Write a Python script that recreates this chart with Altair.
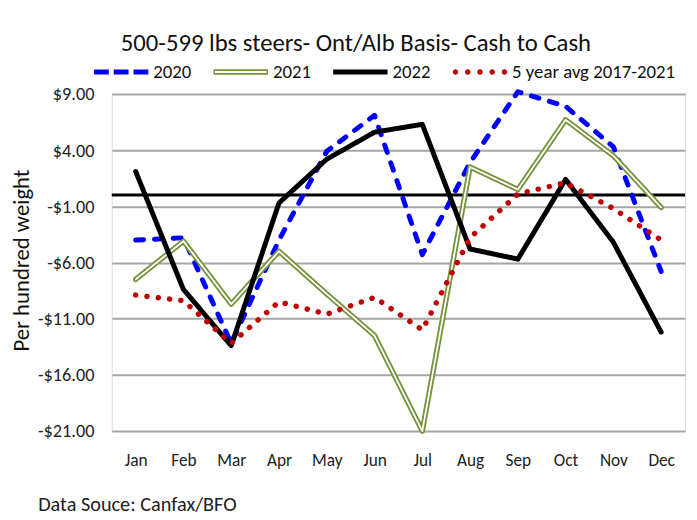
import altair as alt
import pandas as pd

months = ["Jan", "Feb", "Mar", "Apr", "May", "Jun", "Jul", "Aug", "Sep", "Oct", "Nov", "Dec"]
series_names = ["2020", "2021", "2022", "5 year avg 2017-2021"]
v2020 = [-4.0, -3.8, -13.2, -4.0, 3.9, 7.1, -5.3, 2.9, 9.2, 7.9, 4.3, -6.8]
v2021 = [-7.5, -4.1, -9.7, -5.0, -8.8, -12.5, -21.0, 2.5, 0.5, 6.7, 3.5, -1.1]
v2022 = [2.1, -8.4, -13.4, -0.7, 3.2, 5.6, 6.3, -4.8, -5.7, 1.4, -4.2, -12.2]
avg5 = [-8.9, -9.4, -13.2, -9.5, -10.6, -9.1, -12.0, -3.8, 0.1, 1.1, -1.2, -4.0]
y_ticks = [9, 4, -1, -6, -11, -16, -21]

colors = ["#0000ff", "#76923c", "#000000", "#c00000"]

# legend glyphs (unit square paths): dashes, double line, solid line, dots
legend_shapes = [
    "M-1,-0.09H-0.455V0.09H-1Z M-0.273,-0.09H0.273V0.09H-0.273Z M0.455,-0.09H1V0.09H0.455Z",
    "M-1,-0.1H1V-0.035H-1Z M-1,0.035H1V0.1H-1Z M-1,-0.1H-0.95V0.1H-1Z M0.95,-0.1H1V0.1H0.95Z",
    "M-1,-0.09H1V0.09H-1Z",
    "M-1,0a0.1,0.1 0 1,0 0.2,0a0.1,0.1 0 1,0 -0.2,0Z "
    "M-0.55,0a0.1,0.1 0 1,0 0.2,0a0.1,0.1 0 1,0 -0.2,0Z "
    "M-0.1,0a0.1,0.1 0 1,0 0.2,0a0.1,0.1 0 1,0 -0.2,0Z "
    "M0.35,0a0.1,0.1 0 1,0 0.2,0a0.1,0.1 0 1,0 -0.2,0Z "
    "M0.8,0a0.1,0.1 0 1,0 0.2,0a0.1,0.1 0 1,0 -0.2,0Z",
]

rows = []
for name, vals in zip(series_names, [v2020, v2021, v2022, avg5]):
    for m, v in zip(months, vals):
        rows.append({"month": m, "value": v, "series": name})
df = pd.DataFrame(rows)

FONT = "Carlito, Calibri, Lato, sans-serif"

x_enc = alt.X(
    "month:N",
    sort=months,
    scale=alt.Scale(type="point", padding=0.5),
    axis=alt.Axis(
        title="Data Souce: Canfax/BFO",
        titleFont=FONT, titleFontSize=20.5, titleFontWeight="normal", titleColor="#222222",
        titleX=-75, titleY=74, titleAlign="left", titleBaseline="middle", titleAnchor="start",
        labelFont=FONT, labelFontSize=17.5, labelColor="#222222", labelPadding=21,
        labelAngle=0, ticks=False, tickSize=0, domain=False, grid=False,
    ),
)
y_enc = alt.Y(
    "value:Q",
    scale=alt.Scale(domain=[-21, 9], nice=False, zero=False),
    axis=alt.Axis(
        values=y_ticks,
        labelExpr="datum.value < 0 ? '-$' + format(-datum.value, '.2f') : '$' + format(datum.value, '.2f')",
        title="Per hundred weight",
        titleFont=FONT, titleFontSize=23, titleFontWeight="normal", titleColor="#111111",
        titleAngle=-90, titleX=-91, titleY=168, titleAlign="center", titleBaseline="middle",
        labelFont=FONT, labelFontSize=18.5, labelColor="#222222", labelPadding=18,
        ticks=False, tickSize=0, domain=False,
        grid=True, gridColor="#a6a6a6", gridWidth=2,
    ),
)

legend = alt.Legend(
    title=None, orient="none", direction="horizontal", columns=4,
    legendX=-18, legendY=-50,
    symbolSize=3025, symbolStrokeWidth=0,
    labelFont=FONT, labelFontSize=19, labelColor="#111111", labelOffset=5,
    labelLimit=400, columnPadding=22,
)

base = alt.Chart(df).encode(x=x_enc, y=y_enc)


def series_layer(name, color, width, dash):
    return base.transform_filter(alt.datum.series == name).mark_line(
        color=color, strokeWidth=width, strokeDash=dash, strokeCap="round", strokeJoin="round"
    )


l2020 = series_layer("2020", colors[0], 5, [8, 11])
l2021 = series_layer("2021", colors[1], 5.5, [1, 0])
l2021_inner = series_layer("2021", "white", 1.8, [1, 0])
l2022 = series_layer("2022", colors[2], 5, [1, 0])
lavg = series_layer("5 year avg 2017-2021", colors[3], 5.5, [0.1, 11.4])

# legend-only layer: explicit scale domains keep all entries, no marks are drawn
legend_layer = base.transform_filter("false").mark_point(filled=True, size=3025, opacity=1).encode(
    color=alt.Color("series:N", scale=alt.Scale(domain=series_names, range=colors), legend=legend),
    shape=alt.Shape("series:N", scale=alt.Scale(domain=series_names, range=legend_shapes), legend=legend),
)

zero_rule = alt.Chart(pd.DataFrame({"z": [0]})).mark_rule(color="black", strokeWidth=3).encode(
    y=alt.Y("z:Q", scale=alt.Scale(domain=[-21, 9], nice=False, zero=False))
)

chart = alt.layer(zero_rule, l2020, l2021, l2021_inner, l2022, lavg, legend_layer).properties(
    width=580, height=341,
    title=alt.TitleParams(
        "500-599 lbs steers- Ont/Alb Basis- Cash to Cash",
        font=FONT, fontSize=25, fontWeight="normal", color="#111111",
        anchor="middle", frame="group", dx=-43, offset=-11,
    ),
    autosize=alt.AutoSizeParams(type="none"),
    padding={"left": 105, "top": 84, "right": 4, "bottom": 86},
).configure_view(stroke=None).configure(background="white")

chart.save("out.html", embed_options={"renderer": "svg", "actions": False})
